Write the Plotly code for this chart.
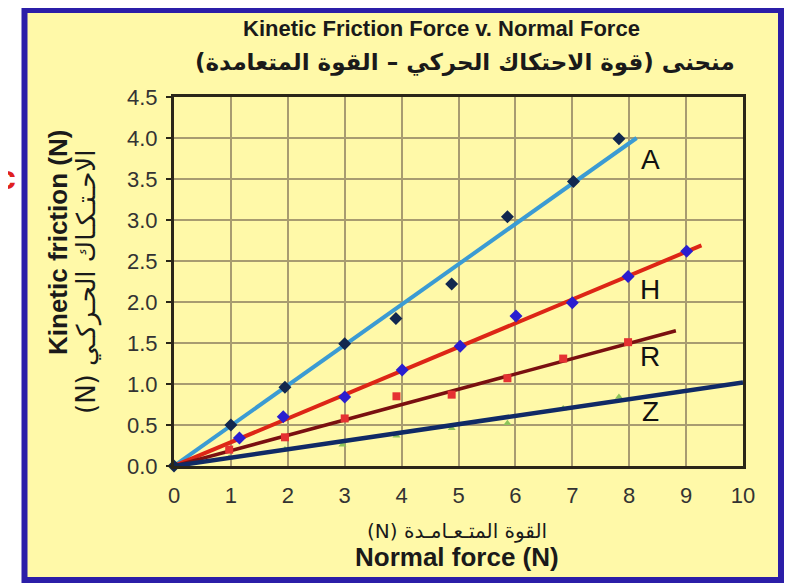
import plotly.graph_objects as go

# ---- data ----
a_x = [0, 1.0, 1.95, 3.0, 3.9, 4.88, 5.86, 7.02, 7.82]
a_y = [0, 0.50, 0.96, 1.49, 1.80, 2.22, 3.04, 3.47, 3.99]
h_x = [1.15, 1.92, 3.0, 4.01, 5.03, 6.01, 7.0, 7.98, 9.01]
h_y = [0.34, 0.60, 0.84, 1.17, 1.46, 1.83, 1.99, 2.31, 2.62]
r_x = [0.97, 1.95, 3.0, 3.91, 4.88, 5.86, 6.84, 7.98]
r_y = [0.20, 0.35, 0.58, 0.85, 0.87, 1.07, 1.31, 1.51]
z_x = [0.97, 1.95, 2.96, 3.91, 4.88, 5.86, 6.84, 7.82]
z_y = [0.10, 0.20, 0.26, 0.37, 0.46, 0.52, 0.70, 0.84]

a_line_x = [0, 8.13]
a_line_y = [0, 4.0]
h_line_x = [0, 9.27]
h_line_y = [0, 2.69]
r_line_x = [0, 8.82]
r_line_y = [0, 1.65]
z_line_x = [0, 10.0]
z_line_y = [0, 1.02]

labels = ["A", "H", "R", "Z"]
label_x = [8.37, 8.37, 8.37, 8.37]
label_y = [3.74, 2.15, 1.34, 0.66]

x_ticks = list(range(0, 11))
y_ticks = [0.0, 0.5, 1.0, 1.5, 2.0, 2.5, 3.0, 3.5, 4.0, 4.5]

# ---- figure (page body has an 8px margin) ----
OFF = 8
W, H = 793 - OFF, 586 - OFF
PL, PR, PT, PB = 174, 743, 97, 466          # plot area in screen pixels
L, R, T, B = PL - OFF, W - (PR - OFF), PT - OFF, H - (PB - OFF)
pw, ph = PR - PL, PB - PT


def px(xs):
    return (xs - PL) / pw


def py(ys):
    return (PB - ys) / ph


fig = go.Figure()

fig.add_trace(go.Scatter(x=z_x, y=z_y, mode="markers",
                         marker=dict(symbol="triangle-up", size=7, color="#8cc45a"),
                         showlegend=False, cliponaxis=False))

fig.add_trace(go.Scatter(x=a_line_x, y=a_line_y, mode="lines",
                         line=dict(color="#3b9bd3", width=4), showlegend=False))
fig.add_trace(go.Scatter(x=h_line_x, y=h_line_y, mode="lines",
                         line=dict(color="#dd2616", width=4), showlegend=False))
fig.add_trace(go.Scatter(x=r_line_x, y=r_line_y, mode="lines",
                         line=dict(color="#7a1010", width=3.5), showlegend=False))
fig.add_trace(go.Scatter(x=z_line_x, y=z_line_y, mode="lines",
                         line=dict(color="#102a66", width=4.5), showlegend=False))

fig.add_trace(go.Scatter(x=r_x, y=r_y, mode="markers",
                         marker=dict(symbol="square", size=8, color="#e53232"),
                         showlegend=False, cliponaxis=False))
fig.add_trace(go.Scatter(x=h_x, y=h_y, mode="markers",
                         marker=dict(symbol="diamond", size=10, color="#2a1fd0"),
                         showlegend=False, cliponaxis=False))
fig.add_trace(go.Scatter(x=a_x, y=a_y, mode="markers",
                         marker=dict(symbol="diamond", size=10, color="#12284f"),
                         showlegend=False, cliponaxis=False))

for t, lx, ly in zip(labels, label_x, label_y):
    fig.add_annotation(x=lx, y=ly, text=t, showarrow=False, xanchor="center", yanchor="middle",
                       font=dict(family="Liberation Sans", size=28, color="#111111"))

ann = [
    dict(x=px(441), y=py(28), text="<b>Kinetic Friction Force v. Normal Force</b>",
         font=dict(family="Liberation Sans", size=22, color="#1a1a1a")),
    dict(x=px(465), y=py(62), text="<b>منحنى (قوة الاحتكاك الحركي – القوة المتعامدة)\u200f</b>",
         font=dict(family="DejaVu Sans", size=23, color="#1a1a1a")),
    dict(x=px(457), y=py(531), text="(N) القوة المتـعـامـدة",
         font=dict(family="DejaVu Sans", size=20, color="#1a1a1a")),
    dict(x=px(457), y=py(557), text="<b>Normal force (N)</b>",
         font=dict(family="Liberation Sans", size=26, color="#1a1a1a")),
    dict(x=px(58), y=py(243), text="<b>Kinetic friction (N)</b>", textangle=-90,
         font=dict(family="Liberation Sans", size=26, color="#1a1a1a")),
    dict(x=px(86), y=py(282), text="(N) الاحـتـكـاك الحـركـي", textangle=-90,
         font=dict(family="DejaVu Sans", size=26, color="#1a1a1a")),
    dict(x=px(6), y=py(177), text="<b>c</b>", xanchor="center",
         font=dict(family="Liberation Sans", size=34, color="#e02020")),
]
for a in ann:
    a.setdefault("xanchor", "center")
    fig.add_annotation(xref="paper", yref="paper", showarrow=False, yanchor="middle", **a)

fig.add_shape(type="rect", xref="paper", yref="paper",
              x0=px(24.5), x1=px(781), y0=py(580), y1=py(10),
              fillcolor="#fff9a8", line=dict(color="#2b1ea8", width=6), layer="below")

fig.update_xaxes(range=[0, 10], tickvals=x_ticks, ticktext=[str(v) for v in x_ticks],
                 showgrid=True, gridcolor="#a89c70", gridwidth=1.5, zeroline=False,
                 showline=True, mirror=True, linecolor="#2a2618", linewidth=3,
                 ticks="", ticklabelstandoff=8,
                 tickfont=dict(family="Liberation Sans", size=22, color="#333333"))
fig.update_yaxes(range=[0, 4.5], tickvals=y_ticks, ticktext=[f"{v:.1f}" for v in y_ticks],
                 showgrid=True, gridcolor="#a89c70", gridwidth=1.5, zeroline=False,
                 showline=True, mirror=True, linecolor="#2a2618", linewidth=3,
                 ticks="outside", ticklen=5, tickcolor="#2a2618", tickwidth=2,
                 ticklabelstandoff=4,
                 tickfont=dict(family="Liberation Sans", size=22, color="#333333"))

fig.update_layout(width=W, height=H, margin=dict(l=L, r=R, t=T, b=B),
                  paper_bgcolor="white", plot_bgcolor="#fff6a0", showlegend=False)

fig.write_html("out.html")
